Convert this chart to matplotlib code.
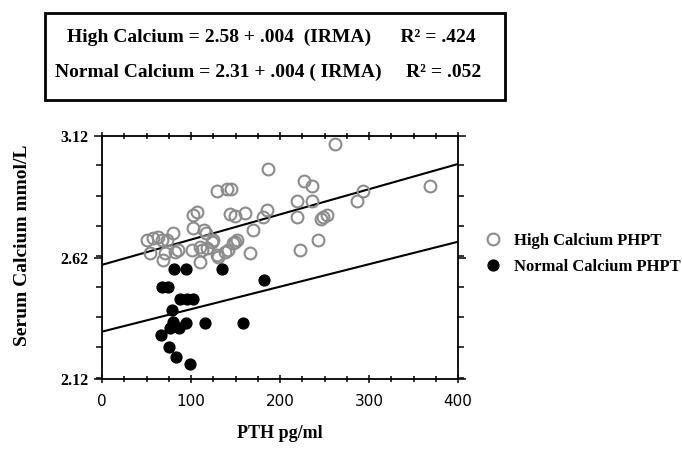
import matplotlib
matplotlib.use("Agg")
import matplotlib.pyplot as plt
from matplotlib.patches import Rectangle
from matplotlib.lines import Line2D
from matplotlib.ticker import MultipleLocator

# PTH (pg/ml) und Serum-Calcium (mmol/L)
high_pth = [186.9, 128.9, 140.1, 144.6, 218.7, 218.7, 102.6, 107.1, 143.8, 149.4,
            160.7, 185.0, 181.2, 80.1, 102.6, 114.6, 116.9, 50.2, 57.6, 63.3,
            67.1, 72.7, 125.0, 151.3, 170.0, 166.3, 128.9, 53.9, 68.9, 82.0,
            85.7, 100.8, 110.1, 112.0, 117.6, 123.2, 110.1, 130.7, 141.9, 149.4,
            261.8, 227.0, 236.3, 236.3, 293.6, 286.2, 252.5, 247.9, 245.7, 243.0,
            222.5, 368.5, 70.8, 138.2, 147.5]
high_ca = [2.983, 2.895, 2.900, 2.900, 2.854, 2.785, 2.795, 2.808, 2.799, 2.791,
           2.802, 2.815, 2.785, 2.720, 2.740, 2.733, 2.720, 2.692, 2.699, 2.706,
           2.692, 2.692, 2.692, 2.692, 2.733, 2.637, 2.630, 2.637, 2.610, 2.644,
           2.651, 2.651, 2.664, 2.651, 2.658, 2.685, 2.603, 2.623, 2.651, 2.685,
           3.087, 2.936, 2.914, 2.854, 2.895, 2.854, 2.795, 2.785, 2.777, 2.692,
           2.651, 2.914, 2.637, 2.644, 2.678]

normal_pth = [80.9, 94.4, 134.5, 67.0, 73.8, 182.0, 87.6, 95.9, 101.9, 78.7,
              79.4, 94.4, 116.0, 158.8, 76.4, 86.2, 66.0, 75.3, 83.5, 98.9]
normal_ca = [2.571, 2.571, 2.571, 2.497, 2.497, 2.527, 2.450, 2.450, 2.450, 2.404,
             2.356, 2.352, 2.352, 2.352, 2.329, 2.329, 2.302, 2.253, 2.209, 2.180]

# Regressionsgeraden wie gezeichnet (Endpunkte bei PTH 0 und 400)
line_x = [0, 400]
high_line = [2.59, 3.005]
normal_line = [2.315, 2.685]

serif = "Liberation Serif"

fig = plt.figure(figsize=(6.82, 4.51), dpi=100)
ax = fig.add_axes([0.1496, 0.1596, 0.522, 0.5388])

ax.plot(line_x, high_line, color="black", lw=1.5, zorder=2)
ax.plot(line_x, normal_line, color="black", lw=1.5, zorder=2)
ax.plot(high_pth, high_ca, "o", ms=8.5, mfc="none", mec="#8c8c8c", mew=1.5, zorder=3)
ax.plot(normal_pth, normal_ca, "o", ms=7.8, mfc="black", mec="black", zorder=4)

ax.set_xlim(0, 400)
ax.set_ylim(2.12, 3.12)
ax.set_xticks([0, 100, 200, 300, 400])
ax.set_yticks([2.12, 2.62, 3.12])
ax.set_yticklabels(["2.12", "2.62", "3.12"])
ax.xaxis.set_minor_locator(MultipleLocator(25))
ax.yaxis.set_minor_locator(MultipleLocator(0.125))
ax.tick_params(axis="both", which="both", top=True, right=True, width=1.1)
ax.tick_params(axis="y", which="both", direction="out")
ax.tick_params(axis="x", which="both", direction="inout")
ax.tick_params(which="major", length=6)
ax.tick_params(which="minor", length=4)
for sp in ax.spines.values():
    sp.set_linewidth(1.3)

for lab in ax.get_xticklabels():
    lab.set_family("DejaVu Sans")
    lab.set_fontsize(11)
for lab in ax.get_yticklabels():
    lab.set_family(serif)
    lab.set_fontweight("bold")
    lab.set_fontsize(11.5)
ax.tick_params(axis="x", pad=8)

ax.set_xlabel("PTH pg/ml", family=serif, fontweight="bold", fontsize=13)
ax.set_ylabel("Serum Calcium mmol/L", family=serif, fontweight="bold", fontsize=14)
ax.xaxis.set_label_coords(0.5, -0.19)
ax.yaxis.set_label_coords(-0.2, 0.55)

# Legende rechts neben dem Plot
handles = [
    Line2D([], [], ls="none", marker="o", ms=8.5, mfc="none", mec="#8c8c8c", mew=1.5),
    Line2D([], [], ls="none", marker="o", ms=7.8, mfc="black", mec="black"),
]
fig.legend(handles, ["High Calcium PHPT", "Normal Calcium PHPT"],
           loc="center left", bbox_to_anchor=(0.688, 0.437), frameon=False,
           prop={"family": serif, "weight": "bold", "size": 12},
           handletextpad=0.8, labelspacing=0.6, handlelength=1.0)

# Kasten mit den Gleichungen
fig.patches.append(Rectangle((0.066, 0.778), 0.675, 0.193, transform=fig.transFigure,
                             fill=False, lw=2.0, ec="black"))
fig.text(0.098, 0.918, "High Calcium = 2.58 + .004  (IRMA)      R² = .424",
         family=serif, fontweight="bold", fontsize=14, va="center")
fig.text(0.081, 0.840, "Normal Calcium = 2.31 + .004 ( IRMA)     R² = .052",
         family=serif, fontweight="bold", fontsize=14, va="center")

fig.savefig("out.png", dpi=100)
